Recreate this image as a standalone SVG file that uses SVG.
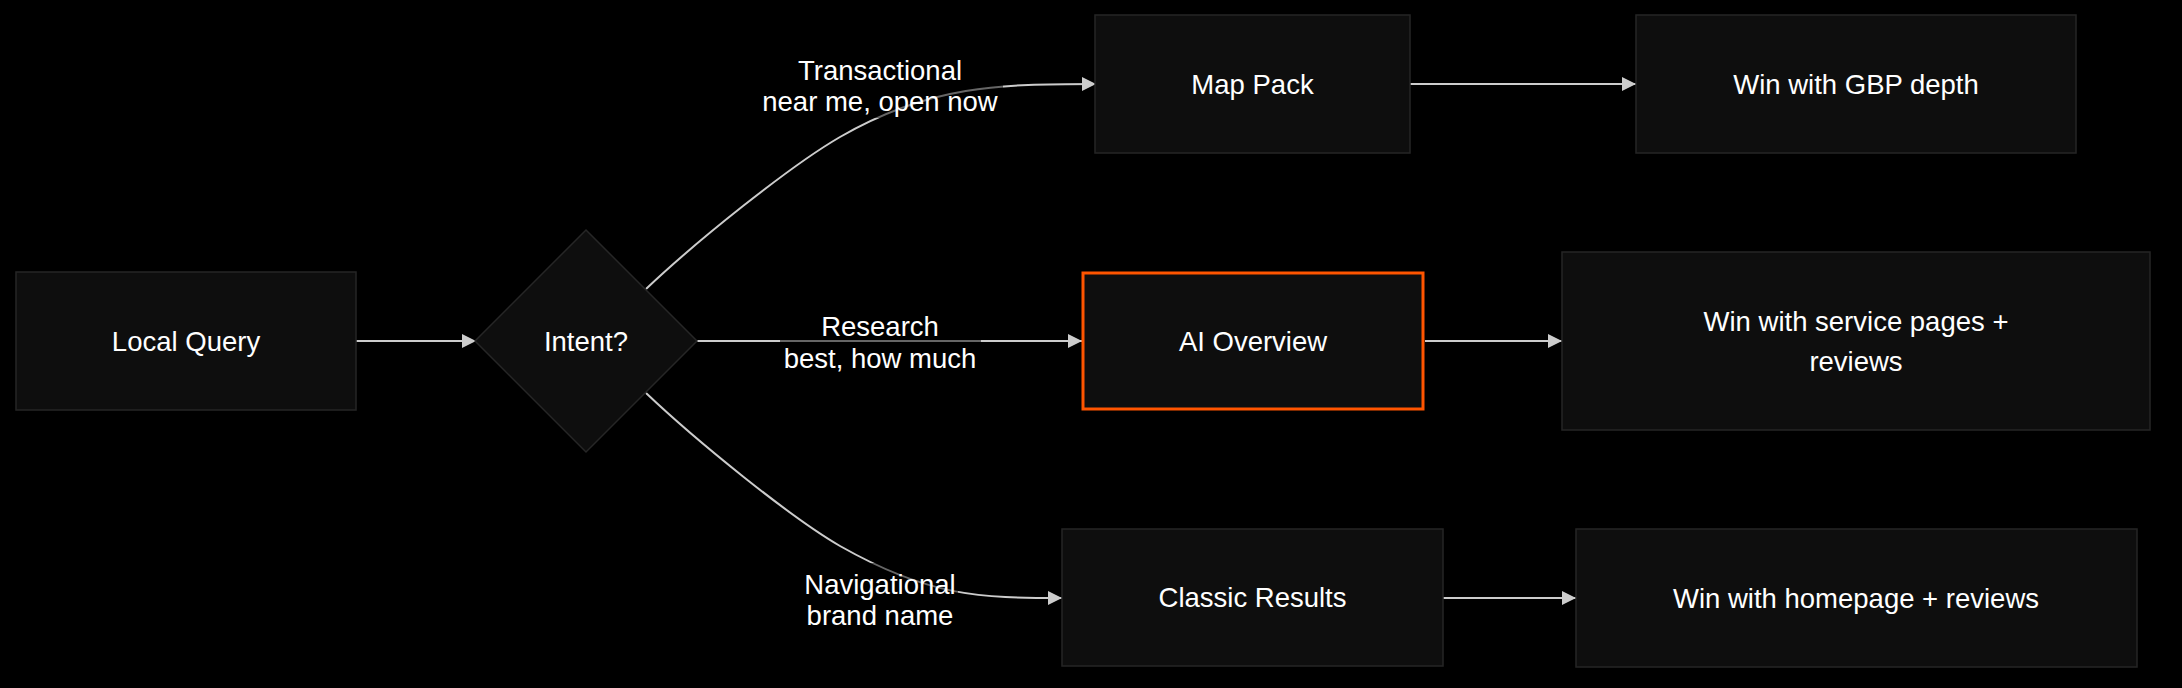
<svg xmlns="http://www.w3.org/2000/svg" width="2182" height="688" viewBox="0 0 2182 688">
  <defs>
    <style>
      .node rect, .node polygon { fill: #0e0e0e; stroke: #262626; stroke-width: 1.5; }
      .node.hl rect { stroke: #ff5500; stroke-width: 3; }
      .node text, .elabel text { fill: #ffffff; font-family: "Liberation Sans", Arial, Helvetica, sans-serif; font-size: 27.5px; text-anchor: middle; dominant-baseline: central; }
      .edge { fill: none; stroke: #cccccc; stroke-width: 2; }
      .elabel rect { fill: #000000; opacity: 0.5; }
    </style>
    <marker id="arrow" viewBox="0 0 10 10" refX="10" refY="5" markerUnits="userSpaceOnUse" markerWidth="14" markerHeight="14" orient="auto">
      <path d="M0 0 L10 5 L0 10 z" fill="#cccccc"/>
    </marker>
  </defs>
  <rect x="0" y="0" width="2182" height="688" fill="#000000"/>

  <g id="connectors">
    <path class="edge" d="M356 341 L476 341" marker-end="url(#arrow)"/>
    <path class="edge" d="M646 289 C696 241.5 790 166 840 137 C930 85 1000 84 1096 84" marker-end="url(#arrow)"/>
    <path class="edge" d="M697 341 L1082 341" marker-end="url(#arrow)"/>
    <path class="edge" d="M646 393 C696 440.5 790 517 840 546 C930 597 980 598 1062 598" marker-end="url(#arrow)"/>
    <path class="edge" d="M1410 84 L1636 84" marker-end="url(#arrow)"/>
    <path class="edge" d="M1425 341 L1562 341" marker-end="url(#arrow)"/>
    <path class="edge" d="M1443 598 L1576 598" marker-end="url(#arrow)"/>
    <g class="elabel" id="label-transactional">
      <rect x="757" y="50" width="246" height="68"/>
      <text x="880" y="70">Transactional</text>
      <text x="880" y="101">near me, open now</text>
    </g>
    <g class="elabel" id="label-research">
      <rect x="780" y="308" width="201" height="68"/>
      <text x="880" y="326">Research</text>
      <text x="880" y="358">best, how much</text>
    </g>
    <g class="elabel" id="label-navigational">
      <rect x="802" y="563" width="156" height="70"/>
      <text x="880" y="584">Navigational</text>
      <text x="880" y="615">brand name</text>
    </g>
  </g>

  <g id="local-query" class="node">
    <rect x="16" y="272" width="340" height="138"/>
    <text x="186" y="341">Local Query</text>
  </g>
  <g id="intent" class="node">
    <polygon points="586,230 697,341 586,452 475,341"/>
    <text x="586" y="341">Intent?</text>
  </g>
  <g id="map-pack" class="node">
    <rect x="1095" y="15" width="315" height="138"/>
    <text x="1252.5" y="84">Map Pack</text>
  </g>
  <g id="ai-overview" class="node hl">
    <rect x="1083" y="273" width="340" height="136"/>
    <text x="1253" y="341">AI Overview</text>
  </g>
  <g id="classic-results" class="node">
    <rect x="1062" y="529" width="381" height="137"/>
    <text x="1252.5" y="597.5">Classic Results</text>
  </g>
  <g id="win-gbp" class="node">
    <rect x="1636" y="15" width="440" height="138"/>
    <text x="1856" y="84">Win with GBP depth</text>
  </g>
  <g id="win-service" class="node">
    <rect x="1562" y="252" width="588" height="178"/>
    <text x="1856" y="321">Win with service pages +</text>
    <text x="1856" y="361">reviews</text>
  </g>
  <g id="win-homepage" class="node">
    <rect x="1576" y="529" width="561" height="138"/>
    <text x="1856" y="598">Win with homepage + reviews</text>
  </g>
</svg>
